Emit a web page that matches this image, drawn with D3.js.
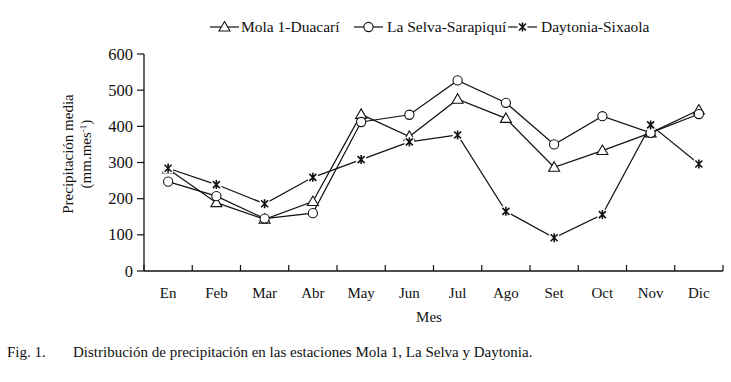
<!DOCTYPE html>
<html><head><meta charset="utf-8">
<script src="https://cdn.jsdelivr.net/npm/d3@7"></script>
<style>body{margin:0;background:#fff}svg{display:block}</style>
</head><body><svg id="c" width="731" height="382"></svg>
<script>
const months = ["En","Feb","Mar","Abr","May","Jun","Jul","Ago","Set","Oct","Nov","Dic"];
const yTicks = [0,100,200,300,400,500,600];
const mola = [282,189,143,192,433,372,475,422,287,333,382,445];
const selva = [247,207,145,160,412,432,527,465,350,428,382,434];
const daytonia = [284,239,186,259,308,357,376,165,92,156,404,296];
const seriesNames = ["Mola 1-Duacarí","La Selva-Sarapiquí","Daytonia-Sixaola"];

const FONT = "'Liberation Serif', 'Tinos', 'DejaVu Serif', 'Times New Roman', serif";
const svg = d3.select("#c").attr("font-family", FONT);
const m = {l:144, r:723, t:54, b:271};
const x = d3.scaleBand().domain(months).range([m.l, m.r]);
const y = d3.scaleLinear().domain([0,600]).range([m.b, m.t]);

// axes
const gx = svg.append("g").attr("transform",`translate(0,${m.b})`);
gx.append("line").attr("x1",m.l).attr("x2",m.r).attr("stroke","#111").attr("stroke-width",1.3);
const bounds = months.map(d=>x(d)).concat([m.r]);
gx.selectAll("line.t").data(bounds).join("line").attr("class","t")
  .attr("x1",d=>d).attr("x2",d=>d).attr("y1",0).attr("y2",-6).attr("stroke","#111").attr("stroke-width",1.2);
gx.selectAll("text").data(months).join("text")
  .attr("x",d=>x(d)+x.bandwidth()/2).attr("y",27).attr("text-anchor","middle")
  .attr("font-size",15).attr("fill","#111").text(d=>d);

const gy = svg.append("g");
gy.append("line").attr("x1",m.l).attr("x2",m.l).attr("y1",m.t).attr("y2",m.b).attr("stroke","#111").attr("stroke-width",1.3);
gy.selectAll("line.t").data(yTicks).join("line").attr("class","t")
  .attr("x1",m.l-7).attr("x2",m.l).attr("y1",d=>y(d)).attr("y2",d=>y(d)).attr("stroke","#111").attr("stroke-width",1.2);
gy.selectAll("text").data(yTicks).join("text")
  .attr("x",m.l-11).attr("y",d=>y(d)+5.5).attr("text-anchor","end")
  .attr("font-size",16.5).attr("fill","#111").text(d=>d);

// axis titles
svg.append("text").attr("x",429).attr("y",322).attr("text-anchor","middle").attr("font-size",15).attr("fill","#111").text("Mes");
const yt = svg.append("text").attr("transform","translate(73,154) rotate(-90)").attr("text-anchor","middle").attr("font-size",15).attr("fill","#111");
yt.append("tspan").attr("x",0).attr("dy",0).text("Precipitación media");
yt.append("tspan").attr("x",0).attr("dy",18).text("(mm.mes");
yt.append("tspan").attr("dy",-5).attr("font-size",9).text("-1");
yt.append("tspan").attr("dy",5).text(")");

// caption
svg.append("text").attr("x",7).attr("y",357).attr("font-size",15).attr("fill","#111").text("Fig. 1.");
svg.append("text").attr("x",73).attr("y",357).attr("font-size",15).attr("fill","#111").text("Distribución de precipitación en las estaciones Mola 1, La Selva y Daytonia.");

// markers
function marker(g, type, cx, cy){
  if(type==="tri"){
    g.append("path").attr("d",`M${cx},${cy-5.5}L${cx+5.5},${cy+4}L${cx-5.5},${cy+4}Z`)
      .attr("fill","#fff").attr("stroke","#111").attr("stroke-width",1.1);
  } else if(type==="circ"){
    g.append("circle").attr("cx",cx).attr("cy",cy).attr("r",4.6)
      .attr("fill","#fff").attr("stroke","#111").attr("stroke-width",1.1);
  } else {
    g.append("rect").attr("x",cx-5).attr("y",cy-5).attr("width",10).attr("height",10).attr("fill","#fff");
    g.append("path").attr("d",`M${cx-3.5},${cy-3.5}L${cx+3.5},${cy+3.5}M${cx+3.5},${cy-3.5}L${cx-3.5},${cy+3.5}M${cx},${cy-4.5}L${cx},${cy+4.5}`)
      .attr("stroke","#111").attr("stroke-width",1.6);
  }
}
const line = d3.line().x((d,i)=>x(months[i])+x.bandwidth()/2).y(d=>y(d));
const series = [[mola,"tri"],[selva,"circ"],[daytonia,"ast"]];
series.forEach(([vals])=>{
  svg.append("path").attr("d",line(vals)).attr("fill","none").attr("stroke","#111").attr("stroke-width",1.2);
});
series.forEach(([vals,type])=>{
  const g = svg.append("g");
  vals.forEach((v,i)=>marker(g,type,x(months[i])+x.bandwidth()/2,y(v)));
});

// legend
const legX = [210,354,508];
const legT = [241,387,541];
series.forEach(([vals,type],i)=>{
  const g = svg.append("g");
  const lx = legX[i], ly = 27;
  g.append("line").attr("x1",lx).attr("x2",lx+29).attr("y1",ly).attr("y2",ly).attr("stroke","#111").attr("stroke-width",1.2);
  marker(g,type,lx+14.5,ly);
  g.append("text").attr("x",legT[i]).attr("y",ly+5).attr("font-size",15.5).attr("fill","#111").text(seriesNames[i]);
});
</script></body></html>
